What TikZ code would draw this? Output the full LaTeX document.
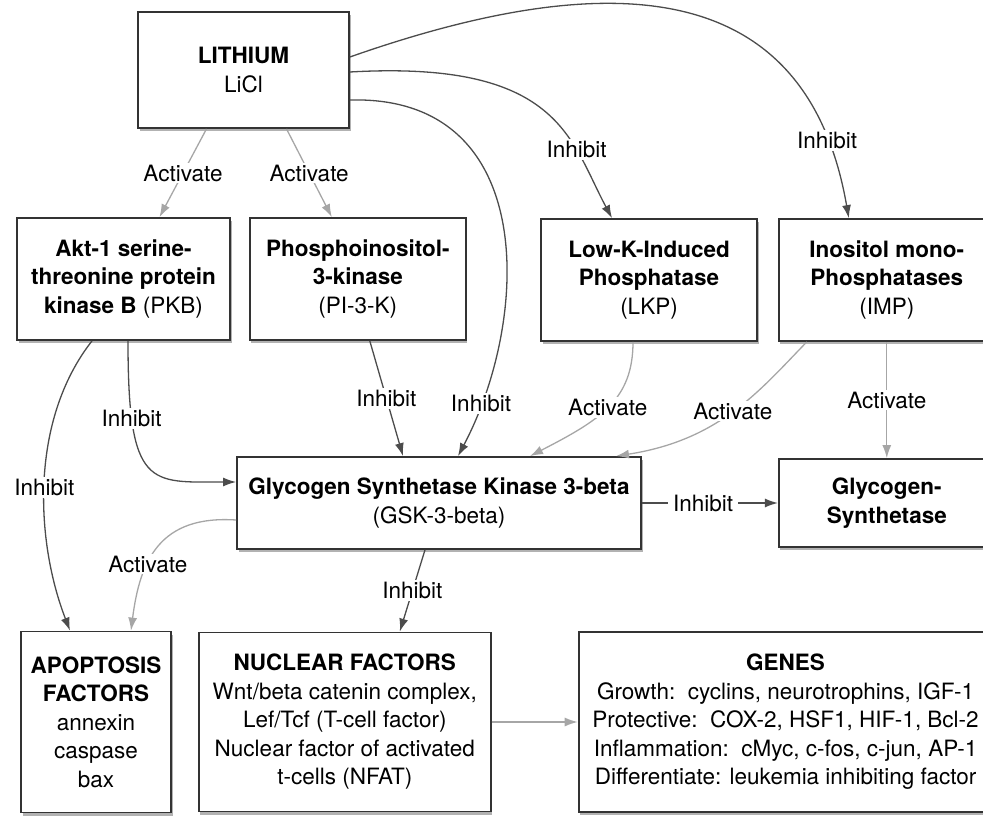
\documentclass[tikz,border=0pt]{standalone}
\usepackage{fontspec}
\setmainfont{TeX Gyre Heros}
\usepackage{tikz}
\usetikzlibrary{positioning, arrows.meta, shadows}

\begin{document}
\begin{tikzpicture}[x=1pt, y=-1pt, every node/.style={font=\fontsize{22.5}{28.5}\selectfont}]
    % styles
    \tikzstyle{cell} = [rectangle, align=center, inner sep=0pt, draw=black!80, line width=1.8pt, fill=white, drop shadow={shadow xshift=1.5pt, shadow yshift=-3pt, fill=black!60, opacity=0.5}]
    \tikzstyle{arrow} = [line width=1.3pt, ->, >={Latex[length=13pt, width=9pt]}, draw=black!70]
    \tikzstyle{soft} = [arrow, draw=black!35]
    \tikzstyle{tag} = [fill=white, inner xsep=5pt, inner ysep=2pt]

    \useasboundingbox (0,0) rectangle (983,821);

    % top
    \node (lithium) [cell, minimum width=211pt, minimum height=116pt] at (243.5,70) {\textbf{LITHIUM}\\LiCl};

    % second row
    \node (akt) [cell, minimum width=213pt, minimum height=122pt] at (123.5,279) {\textbf{Akt-1 serine-}\\\textbf{threonine protein}\\\textbf{kinase B} (PKB)};
    \node (pik) [cell, minimum width=216pt, minimum height=122pt, right=18pt of akt] {\textbf{Phosphoinositol-}\\\textbf{3-kinase}\\(PI-3-K)};
    \node (lkp) [cell, minimum width=216pt, minimum height=122pt] at (649,280) {\textbf{Low-K-Induced}\\\textbf{Phosphatase}\\(LKP)};
    \node (imp) [cell, minimum width=216pt, minimum height=122pt, right=20pt of lkp] {\textbf{Inositol mono-}\\\textbf{Phosphatases}\\(IMP)};

    % middle
    \node (gsk) [cell, minimum width=404pt, minimum height=92pt] at (439,503) {\textbf{Glycogen Synthetase Kinase 3-beta}\\(GSK-3-beta)};
    \node (gs) [cell, minimum width=216pt, minimum height=88pt, right=136pt of gsk] {\textbf{Glycogen-}\\\textbf{Synthetase}};

    % bottom
    \node (apop) [cell, minimum width=150pt, minimum height=181pt] at (96,722) {\textbf{APOPTOSIS}\\\textbf{FACTORS}\\annexin\\caspase\\bax};
    \node (nuc) [cell, minimum width=292pt, minimum height=179pt, right=26pt of apop] {\textbf{NUCLEAR FACTORS}\\Wnt/beta catenin complex,\\Lef/Tcf (T-cell factor)\\Nuclear factor of activated\\t-cells (NFAT)};
    \node (genes) [cell, minimum width=414pt, minimum height=180pt, right=86pt of nuc] {\textbf{GENES}\\Growth:\ \ cyclins, neurotrophins, IGF-1\\Protective:\ \ COX-2, HSF1, HIF-1, Bcl-2\\Inflammation:\ \ cMyc, c-fos, c-jun, AP-1\\Differentiate: leukemia inhibiting factor};

    % from lithium
    \draw [soft] ([xshift=-37pt]lithium.south) -- ([xshift=36pt]akt.north) node[tag, midway] {Activate};
    \draw [soft] ([xshift=43pt]lithium.south) -- ([xshift=-26pt]pik.north) node[tag, midway] {Activate};
    \draw [arrow] ([yshift=-2pt]lithium.east) .. controls (560,60) and (570,140) .. ([xshift=-37pt]lkp.north) node[tag, pos=0.7] {Inhibit};
    \draw [arrow] ([yshift=13pt]lithium.east) .. controls (640,-45) and (810,-5) .. ([xshift=-38pt]imp.north) node[tag, pos=0.87] {Inhibit};
    \draw [arrow] ([yshift=-30pt]lithium.east) .. controls (540,95) and (530,320) .. ([xshift=19pt]gsk.north) node[tag, pos=0.88] {Inhibit};

    % into gsk-3
    \draw [arrow] ([xshift=4.5pt]akt.south) .. controls (128,490) and (150,482) .. ([yshift=21pt]gsk.west) node[tag, pos=0.22] {Inhibit};
    \draw [arrow] ([xshift=12pt]pik.south) -- ([xshift=-36pt]gsk.north) node[tag, midway] {Inhibit};
    \draw [soft] ([xshift=-16pt]lkp.south) .. controls (633,400) and (600,420) .. ([xshift=91pt]gsk.north) node[tag, pos=0.5] {Activate};
    \draw [soft] ([xshift=-80pt]imp.south) .. controls (760,390) and (720,440) .. ([xshift=177pt]gsk.north) node[tag, pos=0.5] {Activate};
    \draw [soft] (imp.south) -- (gs.north) node[tag, midway] {Activate};

    % out of gsk-3
    \draw [arrow] (gsk.east) -- (gs.west) node[tag, pos=0.45] {Inhibit};
    \draw [arrow] ([xshift=-31.5pt]akt.south) .. controls (30,420) and (35,540) .. ([xshift=-26pt]apop.north) node[tag, pos=0.52] {Inhibit};
    \draw [soft] ([yshift=-17pt]gsk.west) .. controls (160,515) and (140,560) .. ([xshift=35pt]apop.north) node[tag, pos=0.63] {Activate};
    \draw [arrow] ([xshift=-14pt]gsk.south) -- ([xshift=55pt]nuc.north) node[tag, midway] {Inhibit};
    \draw [soft] (nuc.east) -- (genes.west);
\end{tikzpicture}
\end{document}
